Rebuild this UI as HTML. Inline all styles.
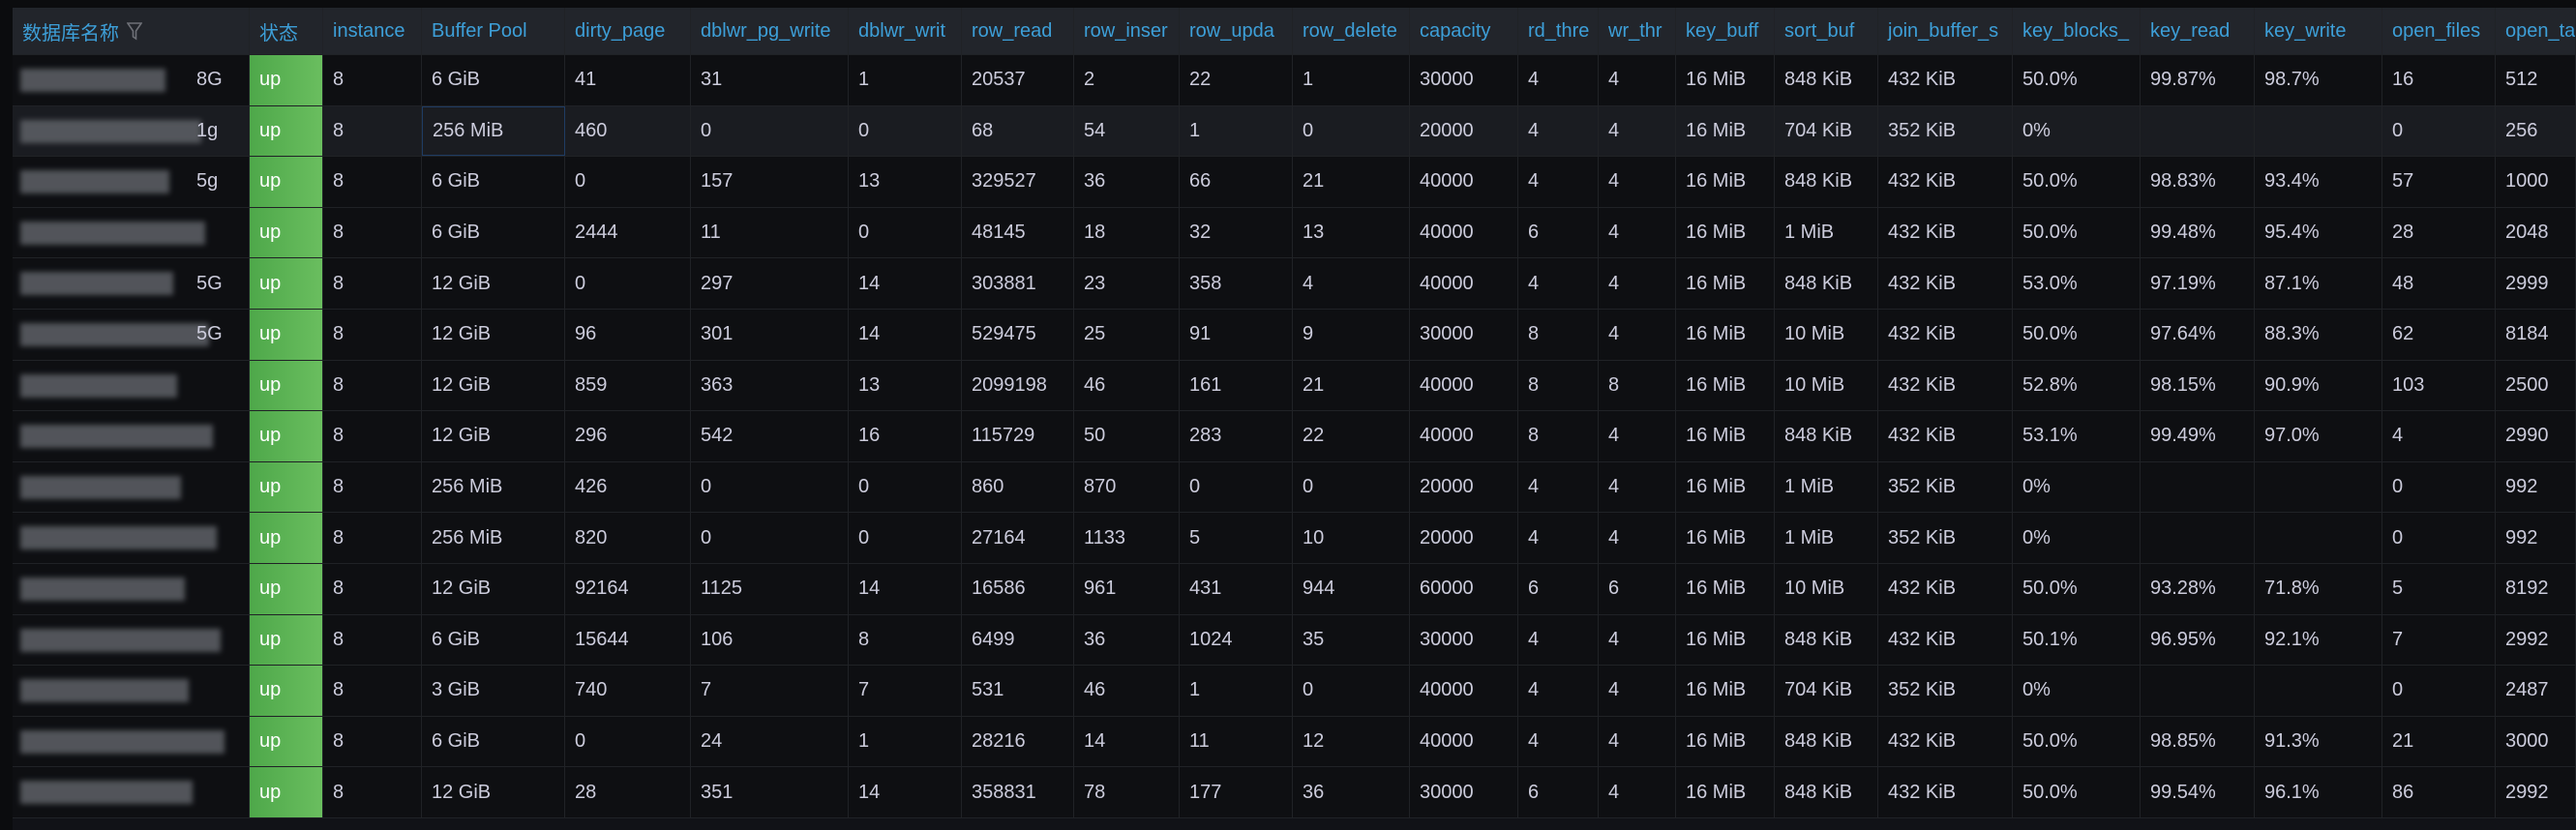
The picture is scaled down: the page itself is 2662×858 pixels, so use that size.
<!DOCTYPE html>
<html><head><meta charset="utf-8">
<style>
html,body{margin:0;padding:0;background:#0b0c0e;width:2662px;height:858px;overflow:hidden;font-family:"Liberation Sans","Noto Sans CJK SC",sans-serif;}
#wrap{position:absolute;left:13px;top:8px;width:2649px;height:850px;background:#111217;overflow:hidden;}
.row{position:absolute;left:0;height:52px;width:2649px;border-bottom:1px solid #202226;box-sizing:border-box;}
.hdr{background:#22252b;top:0;height:49px;}
.cell{position:absolute;top:0;height:100%;box-sizing:border-box;border-right:1px solid #202226;padding-left:10px;font-size:20px;color:#ccccdc;white-space:nowrap;overflow:hidden;display:flex;align-items:center;}
.hdr .cell{color:#3d9fd8;}
.state{background:linear-gradient(90deg,#4ea84a,#6abe5f);color:#fff;}
.blur{position:absolute;height:24px;background:#5e6167;filter:blur(3px);opacity:.85;}
</style></head><body>
<div id="wrap"></div>
<script>
const bounds=[0,245,321,423,571,701,864,981,1097,1206,1323,1444,1556,1639,1719,1821,1928,2067,2199,2317,2449,2566,2649];
const headers=["数据库名称","状态","instance","Buffer Pool","dirty_page","dblwr_pg_write","dblwr_writ","row_read","row_inser","row_upda","row_delete","capacity","rd_thre","wr_thr","key_buff","sort_buf","join_buffer_s","key_blocks_","key_read","key_write","open_files","open_ta"];
const nameSuffix=["8G","1g","5g","","5G","5G","","","","","","","","",""];
const rows=[
["8","6 GiB","41","31","1","20537","2","22","1","30000","4","4","16 MiB","848 KiB","432 KiB","50.0%","99.87%","98.7%","16","512"],
["8","256 MiB","460","0","0","68","54","1","0","20000","4","4","16 MiB","704 KiB","352 KiB","0%","","","0","256"],
["8","6 GiB","0","157","13","329527","36","66","21","40000","4","4","16 MiB","848 KiB","432 KiB","50.0%","98.83%","93.4%","57","1000"],
["8","6 GiB","2444","11","0","48145","18","32","13","40000","6","4","16 MiB","1 MiB","432 KiB","50.0%","99.48%","95.4%","28","2048"],
["8","12 GiB","0","297","14","303881","23","358","4","40000","4","4","16 MiB","848 KiB","432 KiB","53.0%","97.19%","87.1%","48","2999"],
["8","12 GiB","96","301","14","529475","25","91","9","30000","8","4","16 MiB","10 MiB","432 KiB","50.0%","97.64%","88.3%","62","8184"],
["8","12 GiB","859","363","13","2099198","46","161","21","40000","8","8","16 MiB","10 MiB","432 KiB","52.8%","98.15%","90.9%","103","2500"],
["8","12 GiB","296","542","16","115729","50","283","22","40000","8","4","16 MiB","848 KiB","432 KiB","53.1%","99.49%","97.0%","4","2990"],
["8","256 MiB","426","0","0","860","870","0","0","20000","4","4","16 MiB","1 MiB","352 KiB","0%","","","0","992"],
["8","256 MiB","820","0","0","27164","1133","5","10","20000","4","4","16 MiB","1 MiB","352 KiB","0%","","","0","992"],
["8","12 GiB","92164","1125","14","16586","961","431","944","60000","6","6","16 MiB","10 MiB","432 KiB","50.0%","93.28%","71.8%","5","8192"],
["8","6 GiB","15644","106","8","6499","36","1024","35","30000","4","4","16 MiB","848 KiB","432 KiB","50.1%","96.95%","92.1%","7","2992"],
["8","3 GiB","740","7","7","531","46","1","0","40000","4","4","16 MiB","704 KiB","352 KiB","0%","","","0","2487"],
["8","6 GiB","0","24","1","28216","14","11","12","40000","4","4","16 MiB","848 KiB","432 KiB","50.0%","98.85%","91.3%","21","3000"],
["8","12 GiB","28","351","14","358831","78","177","36","30000","6","4","16 MiB","848 KiB","432 KiB","50.0%","99.54%","96.1%","86","2992"]
];
const wrap=document.getElementById('wrap');
function mkCell(row,i,text){
  const c=document.createElement('div');
  
  
  c.className='cell';
  c.style.left=bounds[i]+'px';
  c.style.width=(bounds[i+1]-bounds[i])+'px';
  c.textContent=text;
  row.appendChild(c);
  return c;
}
const h=document.createElement('div');


h.className='row hdr';
wrap.appendChild(h);
headers.forEach((t,i)=>{
  const c=mkCell(h,i,t);
  
  
  if(i===0){
    const f=document.createElementNS('http://www.w3.org/2000/svg','svg');
    
    
    f.setAttribute('width','16');f.setAttribute('height','20');
    f.style.marginLeft='8px';
    f.innerHTML='<path d="M1 2 H15 L9.5 10 V18 L6.5 16 V10 Z" fill="none" stroke="#6e7077" stroke-width="1.6"/>';
    c.appendChild(f);
  }
});
rows.forEach((r,ri)=>{
  const row=document.createElement('div');
  
  
  row.className='row';
  row.style.top=(49+ri*52.6)+'px';
  row.style.height='52.6px';
  row.style.background= ri===1?'#1a1c21':'#0e0f12';
  wrap.appendChild(row);
  const nc=mkCell(row,0,'');
  
  const b=document.createElement('div');b.className='blur';
  b.style.left='8px';b.style.top='14px';b.style.width=(150+(ri*37)%70)+'px';
  nc.appendChild(b);
  const s=document.createElement('span');s.textContent=nameSuffix[ri];
  s.style.position='absolute';s.style.left='190px';
  nc.appendChild(s);
  const st=mkCell(row,1,'up');
  
  st.classList.add('state');
  r.forEach((v,vi)=>{
    const c=mkCell(row,vi+2,v);
    if(ri===1&&vi===1){c.style.border='1px solid #1f3c63';}
  });
});
</script>
</body></html>
